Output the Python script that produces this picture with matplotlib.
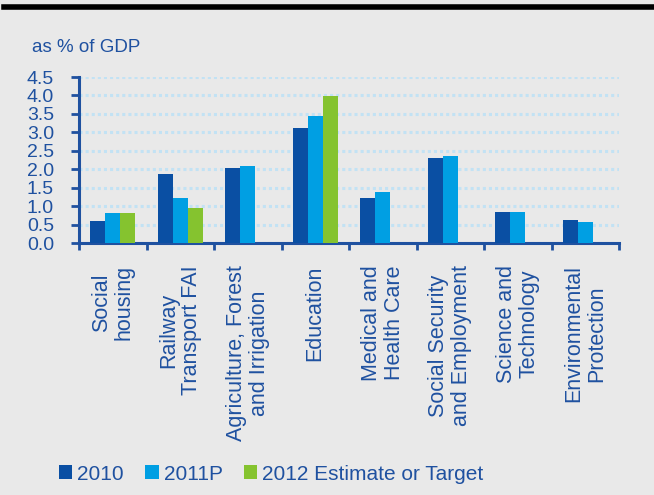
import matplotlib
matplotlib.use("Agg")
import matplotlib.pyplot as plt
import numpy as np
from matplotlib.patches import Patch
from matplotlib.lines import Line2D

categories = ["Social\nhousing", "Railway\nTransport FAI", "Agriculture, Forest\nand Irrigation",
              "Education", "Medical and\nHealth Care", "Social Security\nand Employment",
              "Science and\nTechnology", "Environmental\nProtection"]
series_names = ["2010", "2011P", "2012 Estimate or Target"]
v2010 = [0.6, 1.87, 2.03, 3.12, 1.22, 2.30, 0.84, 0.62]
v2011 = [0.82, 1.22, 2.09, 3.44, 1.38, 2.36, 0.84, 0.57]
v2012 = [0.82, 0.95, np.nan, 3.99, np.nan, np.nan, np.nan, np.nan]
yticks = [0.0, 0.5, 1.0, 1.5, 2.0, 2.5, 3.0, 3.5, 4.0, 4.5]

colors = ["#0a4fa3", "#009fe3", "#85c32f"]
txt = "#1f51a0"
bg = "#e9e9e9"
plt.rcParams['font.family'] = ['Liberation Sans', 'DejaVu Sans']

fig = plt.figure(figsize=(6.54, 4.95), dpi=100, facecolor=bg)
ax = fig.add_axes([79/654, 1-243/495, 540/654, 166/495])
ax.set_facecolor(bg)

x = np.arange(len(categories))
w = 0.222
for i, vals in enumerate([v2010, v2011, v2012]):
    ax.bar(x + (i-1)*w, vals, width=w, color=colors[i], zorder=3)

ax.set_xlim(-0.5, len(categories)-0.5)
ax.set_ylim(0, 4.5)
ax.set_yticks(yticks)
ax.set_yticklabels([f"{t:.1f}" for t in yticks], fontsize=14, color=txt)
ax.yaxis.grid(True, color="#c2e2f4", linestyle=(0, (1, 1)), linewidth=2.2, zorder=0)
ax.tick_params(axis='y', length=6, width=2, color=txt, pad=12)

ax.set_xticks(x)
ax.set_xticklabels(categories, rotation=90, fontsize=15.5, color=txt, va='top', ha='center',
                   multialignment='center', linespacing=1.1)
ax.tick_params(axis='x', which='major', length=0, pad=16)
ax.set_xticks(np.arange(-0.5, len(categories)), minor=True)
ax.tick_params(axis='x', which='minor', length=5, width=2, color=txt)

for s in ["top", "right"]:
    ax.spines[s].set_visible(False)
for s in ["left", "bottom"]:
    ax.spines[s].set_color(txt)
    ax.spines[s].set_linewidth(2.2)

fig.text(32/654, 1-52/495, "as % of GDP", fontsize=13.5, color=txt, ha='left', va='baseline')

fig.add_artist(Line2D([4/654, 1], [1-7/495, 1-7/495], color='black', linewidth=4, transform=fig.transFigure))

handles = [Patch(facecolor=c, edgecolor='none') for c in colors]
leg = fig.legend(handles, series_names, loc='center left', bbox_to_anchor=(40/654, 1-474/495),
                 ncol=3, frameon=False, fontsize=15, handlelength=0.65, handleheight=0.65,
                 handletextpad=0.25, columnspacing=1.0, labelcolor=txt)

fig.savefig("out.png", dpi=100, facecolor=bg)
